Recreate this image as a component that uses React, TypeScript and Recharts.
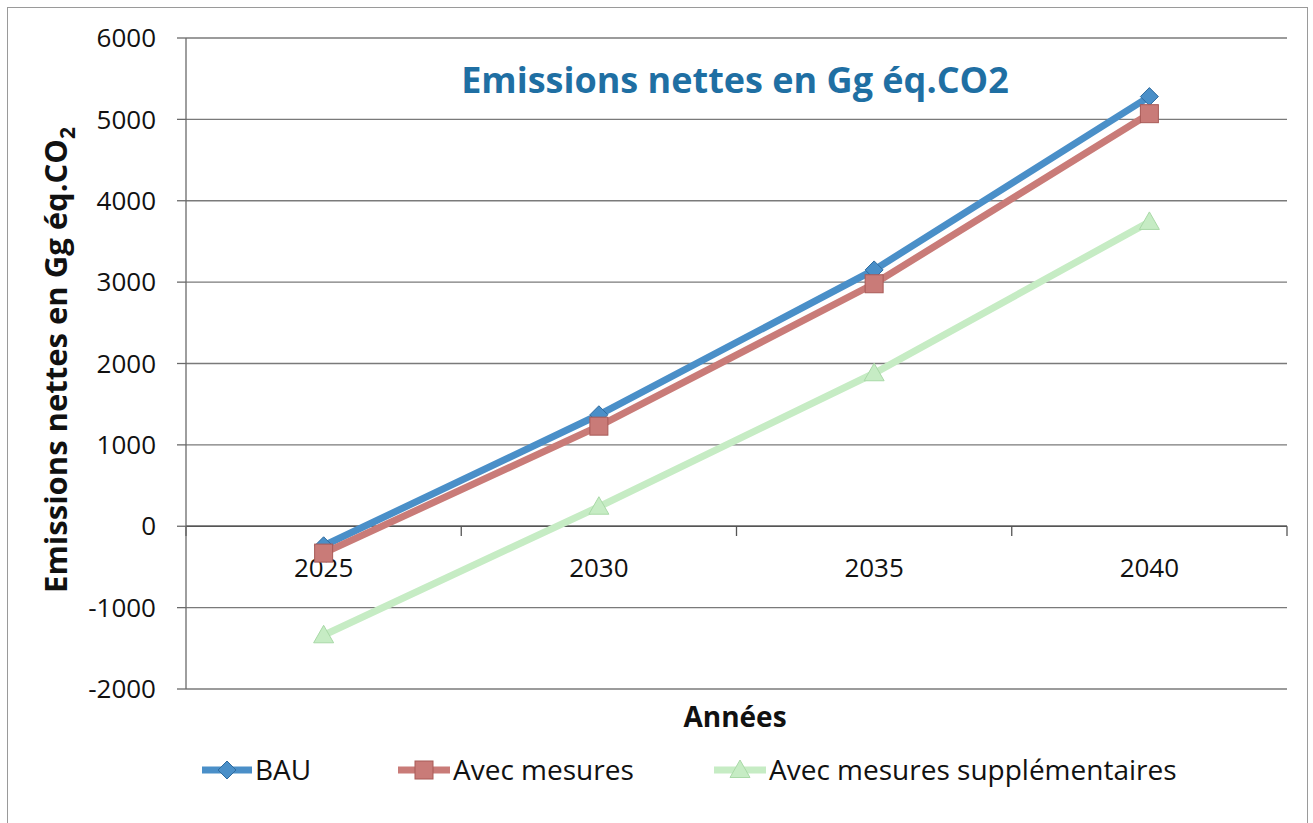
import React from 'react';
import { LineChart, Line, XAxis, YAxis, CartesianGrid, ReferenceLine, ReferenceDot } from 'recharts';

const years = [2025, 2030, 2035, 2040];
const bau = [-240, 1370, 3150, 5280];
const avecMesures = [-330, 1230, 2980, 5070];
const avecMesuresSupp = [-1340, 240, 1880, 3740];
const yTicks = [-2000, -1000, 0, 1000, 2000, 3000, 4000, 5000, 6000];
const categoryBounds = [2022.5, 2027.5, 2032.5, 2037.5, 2042.5];

const titleText = 'Emissions nettes en Gg éq.CO2';
const xTitle = 'Années';

const data = years.map((y, i) => ({
  year: y,
  bau: bau[i],
  am: avecMesures[i],
  ams: avecMesuresSupp[i],
}));

const FONT = "'Open Sans', 'Noto Sans', sans-serif";

const COLORS = {
  bau: '#4a8fc8',
  bauEdge: '#2f6b9e',
  am: '#c97b78',
  amEdge: '#a85a57',
  ams: '#c6ecc4',
  amsEdge: '#a9d9a7',
};

const Diamond = (p: any) => {
  const { cx, cy } = p;
  if (cx == null || cy == null) return null;
  const s = 9;
  return <polygon points={`${cx},${cy - s} ${cx + s},${cy} ${cx},${cy + s} ${cx - s},${cy}`} fill={COLORS.bau} stroke={COLORS.bauEdge} strokeWidth={1} />;
};
const Square = (p: any) => {
  const { cx, cy } = p;
  if (cx == null || cy == null) return null;
  const s = 9;
  return <rect x={cx - s} y={cy - s} width={2 * s} height={2 * s} fill={COLORS.am} stroke={COLORS.amEdge} strokeWidth={1} />;
};
const Triangle = (p: any) => {
  const { cx, cy } = p;
  if (cx == null || cy == null) return null;
  const s = 10;
  return <polygon points={`${cx},${cy - s} ${cx + s},${cy + s * 0.75} ${cx - s},${cy + s * 0.75}`} fill={COLORS.ams} stroke={COLORS.amsEdge} strokeWidth={1} />;
};

const YearLabel = (props: any) => {
  const { viewBox, value } = props;
  if (!viewBox) return null;
  const x = viewBox.x + (viewBox.width || 0) / 2;
  const y = viewBox.y + (viewBox.height || 0) / 2;
  return (
    <text x={x} y={y + 51} textAnchor="middle" fontFamily={FONT} fontSize={26} fill="#111">
      {value}
    </text>
  );
};

const legendItems = [
  { name: 'BAU', color: COLORS.bau, edge: COLORS.bauEdge, shape: 'diamond', x: 202, w: 50 },
  { name: 'Avec mesures', color: COLORS.am, edge: COLORS.amEdge, shape: 'square', x: 398, w: 52 },
  { name: 'Avec mesures supplémentaires', color: COLORS.ams, edge: COLORS.amsEdge, shape: 'triangle', x: 714, w: 52 },
];

export default function App() {
  return (
    <div style={{ position: 'relative', width: 1313, height: 823, overflow: 'hidden', background: '#fff' }}>
      <style>{`body{margin:0;background:#fff}`}</style>
      <div style={{ position: 'absolute', left: 7, top: 7, width: 1301, height: 840, border: '1px solid #9a9a9a', boxSizing: 'border-box' }} />
      <div style={{ position: 'absolute', left: 0, top: 0 }}>
        <LineChart width={1313} height={823} data={data} margin={{ top: 38, right: 26, bottom: 134, left: 0 }}>
          <CartesianGrid vertical={false} stroke="#7a7a7a" strokeWidth={1.3} />
          <XAxis type="number" dataKey="year" domain={[2022.5, 2042.5]} hide />
          <YAxis
            domain={[-2000, 6000]}
            ticks={yTicks}
            width={186}
            tickSize={9}
            tickMargin={21}
            interval={0}
            axisLine={{ stroke: '#6a6a6a', strokeWidth: 1.3 }}
            tickLine={{ stroke: '#6a6a6a', strokeWidth: 1.3 }}
            tick={{ fontSize: 26, fill: '#111', fontFamily: FONT }}
          />
          <ReferenceLine y={0} stroke="#555" strokeWidth={1.5} />
          {categoryBounds.map((b) => (
            <ReferenceLine
              key={b}
              segment={[{ x: b, y: 0 }, { x: b, y: -120 }]}
              stroke="#555"
              strokeWidth={1.3}
              ifOverflow="visible"
            />
          ))}
          {years.map((y) => (
            <ReferenceDot key={y} x={y} y={0} r={0} fill="none" stroke="none" ifOverflow="visible" label={<YearLabel value={String(y)} />} />
          ))}
          <Line dataKey="bau" name="BAU" stroke={COLORS.bau} strokeWidth={7} dot={<Diamond />} isAnimationActive={false} />
          <Line dataKey="am" name="Avec mesures" stroke={COLORS.am} strokeWidth={7} dot={<Square />} isAnimationActive={false} />
          <Line dataKey="ams" name="Avec mesures supplémentaires" stroke={COLORS.ams} strokeWidth={7} dot={<Triangle />} isAnimationActive={false} />
        </LineChart>
      </div>
      <svg width={1313} height={823} style={{ position: 'absolute', left: 0, top: 0, pointerEvents: 'none' }}>
        <text x={735} y={93} textAnchor="middle" fontFamily={FONT} fontWeight={700} fontSize={36} fill="#1f6fa3">
          {titleText}
        </text>
        <text x={67} y={360} transform="rotate(-90 67 360)" textAnchor="middle" fontFamily={FONT} fontWeight={700} fontSize={31} fill="#111">
          Emissions nettes en Gg éq.CO<tspan fontSize={21} dy={8}>2</tspan>
        </text>
        <text x={735} y={727} textAnchor="middle" fontFamily={FONT} fontWeight={700} fontSize={28} fill="#111">
          {xTitle}
        </text>
        {legendItems.map((it) => {
          const cy = 770;
          const cx = it.x + it.w / 2;
          let marker;
          if (it.shape === 'diamond') {
            marker = <polygon points={`${cx},${cy - 9} ${cx + 9},${cy} ${cx},${cy + 9} ${cx - 9},${cy}`} fill={it.color} stroke={it.edge} />;
          } else if (it.shape === 'square') {
            marker = <rect x={cx - 9} y={cy - 9} width={18} height={18} fill={it.color} stroke={it.edge} />;
          } else {
            marker = <polygon points={`${cx},${cy - 10} ${cx + 10},${cy + 7.5} ${cx - 10},${cy + 7.5}`} fill={it.color} stroke={it.edge} />;
          }
          return (
            <g key={it.name}>
              <line x1={it.x} y1={cy} x2={it.x + it.w} y2={cy} stroke={it.color} strokeWidth={7} />
              {marker}
              <text x={it.x + it.w + 3} y={cy + 10} fontFamily={FONT} fontSize={28} fill="#111">
                {it.name}
              </text>
            </g>
          );
        })}
      </svg>
    </div>
  );
}
